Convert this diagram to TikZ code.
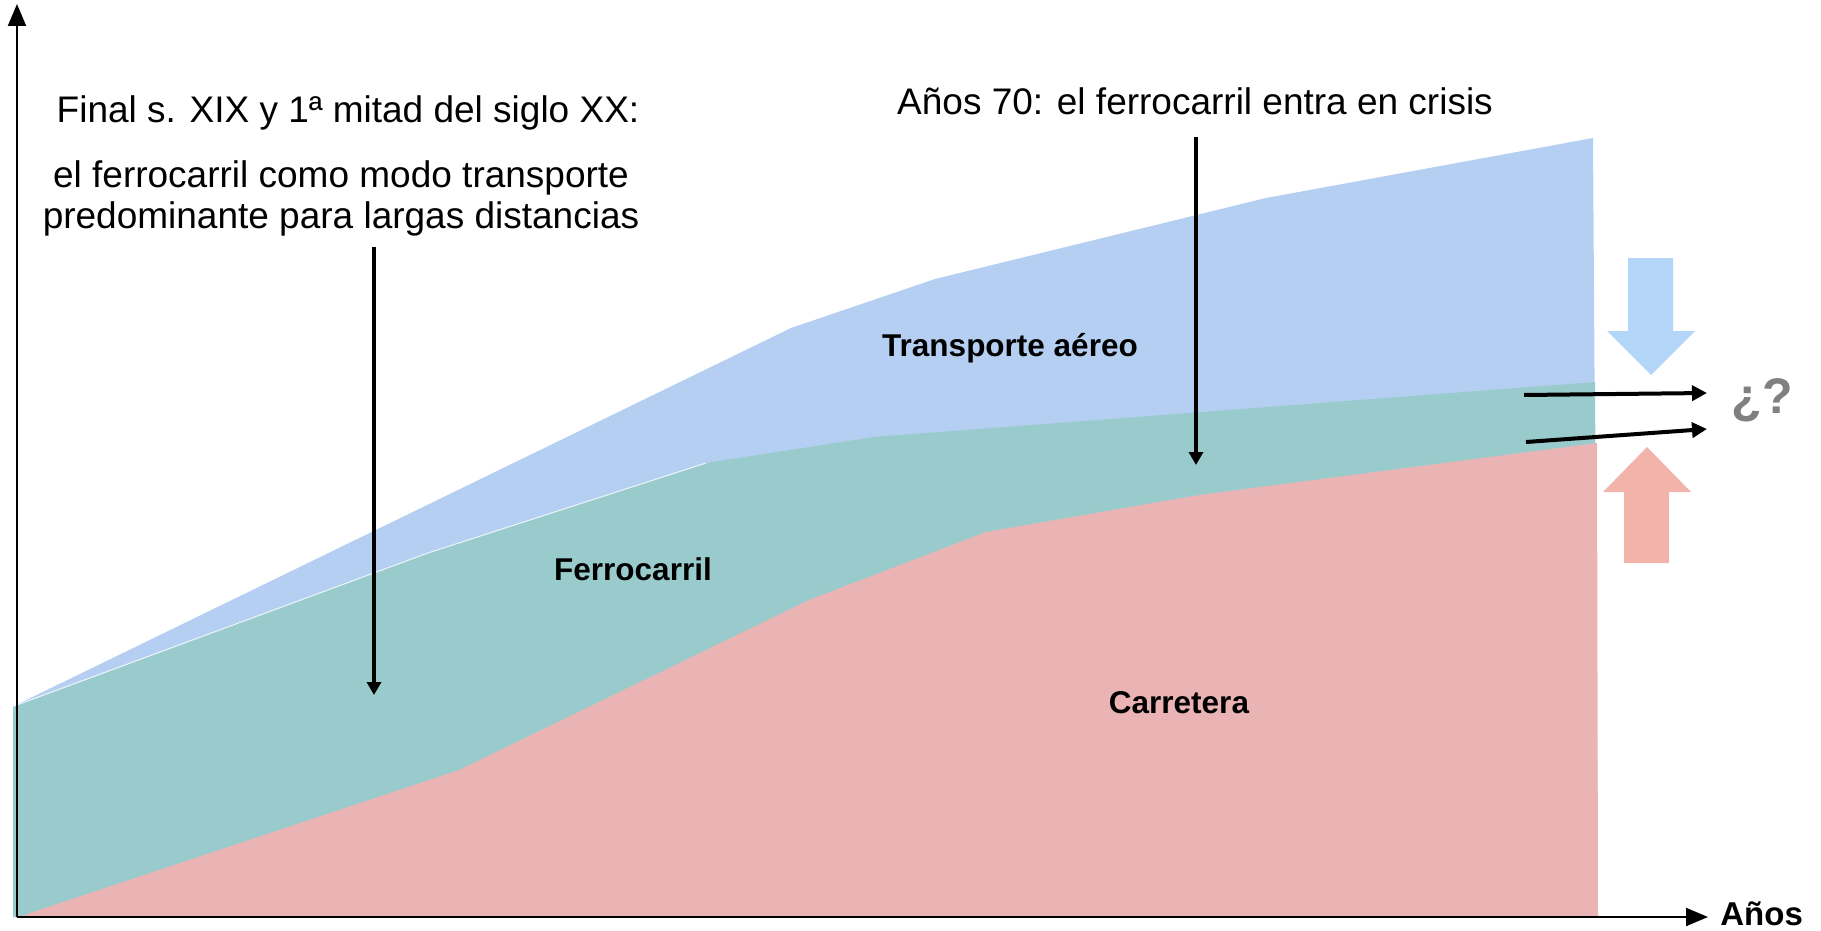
\documentclass[tikz,border=0pt]{standalone}
\usepackage{fontspec}
\setmainfont{Liberation Sans}
\usetikzlibrary{arrows.meta}
\definecolor{aereo}{HTML}{B5CFF3}
\definecolor{ferro}{HTML}{9ACBCC}
\definecolor{carre}{HTML}{EBB4B4}
\definecolor{bluearrow}{HTML}{B3D5F7}
\definecolor{redarrow}{HTML}{F2B4AA}
\definecolor{qgray}{HTML}{808080}
\begin{document}
\begin{tikzpicture}[x=0.5pt,y=-0.5pt,
  hdr/.style={font=\fontsize{18.5}{20.5}\selectfont, inner sep=0pt},
  lbl/.style={font=\fontsize{15.75}{18}\selectfont\bfseries, inner sep=0pt},
  pointer/.style={line width=1.7pt, -{Triangle[length=6.5pt,width=7pt]}},
  axis/.style={line width=1pt, -{Triangle[length=11pt,width=9pt]}},
  trend/.style={line width=2pt, -{Triangle[length=7.5pt,width=7.5pt]}}]
\useasboundingbox (0,0) rectangle (1821,931);
% stacked areas
\fill[aereo] (14,706) -- (791,328) -- (935,279) -- (1266,198) -- (1593,138) -- (1598,917) -- (14,917) -- cycle;
\fill[ferro] (13,707) -- (428,553) -- (706,463) -- (874,437) -- (1595,382) -- (1598,917) -- (13,917) -- cycle;
\fill[carre] (18,917) -- (459,770) -- (809,600) -- (986,532) -- (1199,495) -- (1597,443) -- (1598,917) -- cycle;
\draw[white, line width=0.5pt, opacity=0.8] (14,706) -- (428,553) -- (706,463);
% axes
\coordinate (O) at (17,917);
\coordinate (ytip) at (17,4);
\coordinate (xtip) at (1708,917);
\draw[axis] (O) -- (ytip);
\draw[axis] (O) -- (xtip);
% block arrows
\fill[bluearrow] (1628,258) -- (1673,258) -- (1673,331) -- (1695,331) -- (1651,375) -- (1607,331) -- (1628,331) -- cycle;
\fill[redarrow] (1647,447) -- (1691,492) -- (1669,492) -- (1669,563) -- (1624,563) -- (1624,492) -- (1603,492) -- cycle;
% texts
\node[hdr, anchor=base] (h1) at (348,123) {Final s. XIX y 1ª mitad del siglo XX:};
\node[hdr, anchor=base] (h2) at (341,187) {el ferrocarril como modo transporte};
\node[hdr, anchor=base] (h3) at (341,228) {predominante para largas distancias};
\node[hdr, anchor=base] (h4) at (1195,115) {Años 70: el ferrocarril entra en crisis};
\node[lbl, anchor=base] (la) at (1010,356) {Transporte aéreo};
\node[lbl, anchor=base] (lf) at (633,580) {Ferrocarril};
\node[lbl, anchor=base] (lc) at (1179,713) {Carretera};
\node[lbl, font=\fontsize{16.5}{18}\selectfont\bfseries, anchor=base west] (anos) at (1720,925) {Años};
\node[font=\fontsize{25}{25}\selectfont\bfseries, text=qgray, inner sep=0pt, anchor=base] (q) at (1762,413) {¿?};
% pointer arrows
\coordinate (p1s) at (374,247);
\coordinate (p1e) at (374,695);
\coordinate (p2s) at (1196,137);
\coordinate (p2e) at (1196,465);
\draw[pointer] (p1s) -- (p1e);
\draw[pointer] (p2s) -- (p2e);
% trend arrows
\coordinate (t1s) at (1524,395);
\coordinate (t1e) at (1707,393);
\coordinate (t2s) at (1526,442);
\coordinate (t2e) at (1707,429);
\draw[trend] (t1s) -- (t1e);
\draw[trend] (t2s) -- (t2e);
\end{tikzpicture}
\end{document}
